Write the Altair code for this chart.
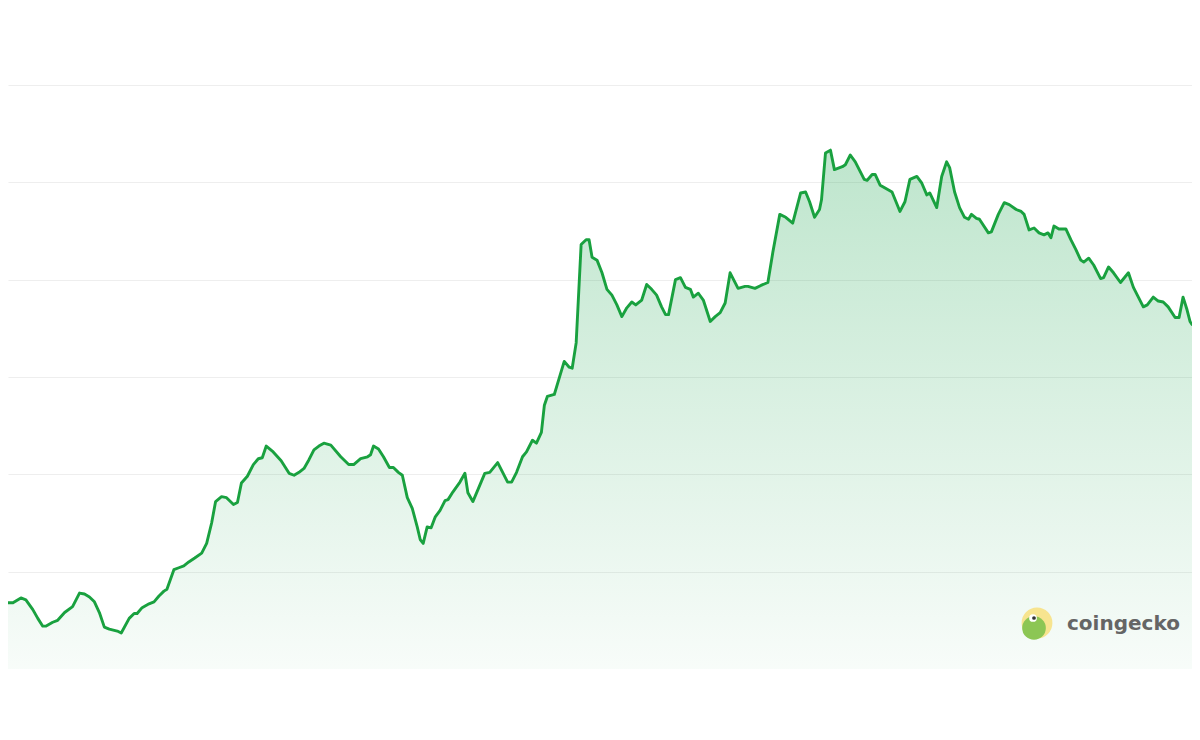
import altair as alt
import pandas as pd

# time position (arbitrary units) and price level (gridline units)
t = [5, 10, 18, 23, 30, 35, 40, 43, 50, 55, 62, 70, 77, 82, 87, 92, 97, 102, 107, 115,
     119, 127, 132, 135, 140, 147, 152, 157, 162, 165, 172, 177, 182, 187, 193, 200, 205, 210, 214, 220,
     225, 232, 236, 240, 246, 252, 257, 261, 265, 272, 280, 288, 293, 298, 303, 308, 313, 318, 323, 330,
     340, 348, 353, 360, 367, 370, 373, 378, 383, 389, 393, 398, 402, 407, 412, 417, 420, 423, 427, 431,
     435, 440, 445, 448, 453, 460, 465, 468, 473, 478, 485, 490, 498, 503, 508, 512, 517, 523, 527, 533,
     537, 542, 545, 548, 555, 560, 565, 570, 573, 577, 582, 587, 590, 593, 598, 603, 608, 613, 618, 623,
     628, 633, 637, 643, 648, 653, 658, 663, 667, 670, 677, 682, 687, 692, 695, 700, 705, 712, 717, 722,
     727, 732, 740, 747, 750, 757, 763, 770, 775, 782, 788, 795, 803, 808, 812, 817, 822, 824, 828, 833,
     837, 845, 848, 853, 858, 867, 870, 875, 878, 883, 888, 895, 903, 908, 913, 920, 925, 930, 933, 940,
     945, 950, 953, 958, 963, 968, 972, 975, 980, 983, 992, 995, 1002, 1008, 1013, 1020, 1025, 1028, 1033, 1038,
     1043, 1048, 1052, 1055, 1058, 1063, 1070, 1075, 1080, 1085, 1088, 1093, 1098, 1105, 1108, 1113, 1118, 1125, 1133, 1138,
     1143, 1148, 1152, 1158, 1163, 1168, 1173, 1180, 1184, 1188, 1192, 1195, 1197]

price = [0.68, 0.68, 0.73, 0.71, 0.61, 0.52, 0.44, 0.44, 0.48, 0.50, 0.58, 0.64, 0.78, 0.77, 0.74, 0.69, 0.58, 0.43, 0.41, 0.39,
         0.37, 0.52, 0.57, 0.57, 0.63, 0.67, 0.69, 0.75, 0.80, 0.82, 1.02, 1.04, 1.06, 1.10, 1.14, 1.19, 1.29, 1.50, 1.72, 1.77,
         1.76, 1.69, 1.71, 1.91, 1.98, 2.10, 2.16, 2.17, 2.29, 2.23, 2.14, 2.01, 1.99, 2.02, 2.06, 2.15, 2.25, 2.29, 2.32, 2.30,
         2.18, 2.10, 2.10, 2.16, 2.18, 2.20, 2.29, 2.26, 2.18, 2.07, 2.07, 2.02, 1.99, 1.76, 1.65, 1.46, 1.33, 1.29, 1.46, 1.45,
         1.56, 1.63, 1.73, 1.74, 1.82, 1.92, 2.01, 1.81, 1.72, 1.84, 2.01, 2.02, 2.12, 2.02, 1.92, 1.92, 2.02, 2.18, 2.23, 2.35,
         2.32, 2.43, 2.71, 2.80, 2.82, 2.99, 3.16, 3.10, 3.09, 3.35, 4.36, 4.41, 4.41, 4.23, 4.20, 4.07, 3.90, 3.84, 3.74, 3.62,
         3.71, 3.77, 3.74, 3.79, 3.95, 3.90, 3.84, 3.72, 3.64, 3.64, 4.00, 4.02, 3.92, 3.90, 3.82, 3.86, 3.79, 3.57, 3.62, 3.66,
         3.76, 4.07, 3.91, 3.93, 3.93, 3.91, 3.94, 3.97, 4.28, 4.67, 4.64, 4.58, 4.89, 4.90, 4.80, 4.64, 4.72, 4.82, 5.30, 5.33,
         5.13, 5.16, 5.18, 5.28, 5.21, 5.03, 5.02, 5.08, 5.08, 4.97, 4.94, 4.90, 4.70, 4.80, 5.03, 5.06, 4.99, 4.87, 4.89, 4.74,
         5.06, 5.21, 5.15, 4.90, 4.74, 4.64, 4.62, 4.67, 4.63, 4.62, 4.48, 4.49, 4.67, 4.79, 4.77, 4.72, 4.70, 4.67, 4.51, 4.53,
         4.48, 4.46, 4.48, 4.43, 4.55, 4.52, 4.52, 4.41, 4.31, 4.20, 4.18, 4.22, 4.15, 4.01, 4.02, 4.13, 4.07, 3.97, 4.07, 3.92,
         3.82, 3.72, 3.74, 3.82, 3.78, 3.77, 3.72, 3.61, 3.61, 3.82, 3.69, 3.57, 3.54]

grid_values = [0, 1, 2, 3, 4, 5, 6]
brand = "coingecko"

df = pd.DataFrame({"t": t, "price": price})

LINE = "#19a13f"

x_enc = alt.X("t:Q", scale=alt.Scale(domain=[5, 1197], nice=False, zero=False), axis=None)
y_enc = alt.Y(
    "price:Q",
    scale=alt.Scale(domain=[0, 6.79], nice=False, zero=True),
    axis=alt.Axis(values=grid_values, labels=False, ticks=False, domain=False, title=None,
                  grid=True, gridColor="#eeeeee", gridWidth=1.2),
)

area = alt.Chart(df).mark_area(
    color=alt.Gradient(
        gradient="linear",
        stops=[alt.GradientStop(color="rgba(22,163,74,0.28)", offset=0),
               alt.GradientStop(color="rgba(22,163,74,0.03)", offset=1)],
        x1=1, x2=1, y1=0, y2=1,
    ),
    interpolate="linear",
).encode(x=x_enc, y=y_enc)

line = alt.Chart(df).mark_line(color=LINE, strokeWidth=2.9, strokeJoin="round", strokeCap="round").encode(
    x=x_enc, y=y_enc
)

one = pd.DataFrame({"label": [brand]})

logo_ring = alt.Chart(one).mark_circle(color="#f7e48f", opacity=1).encode(
    x=alt.value(1029), y=alt.value(615), size=alt.value(950)
)
logo_head = alt.Chart(one).mark_circle(color="#8cc654", opacity=1).encode(
    x=alt.value(1026), y=alt.value(620), size=alt.value(560)
)
logo_eye = alt.Chart(one).mark_circle(color="#ffffff", opacity=1).encode(
    x=alt.value(1025), y=alt.value(610), size=alt.value(60)
)
logo_pupil = alt.Chart(one).mark_circle(color="#333333", opacity=1).encode(
    x=alt.value(1026), y=alt.value(610), size=alt.value(14)
)
logo_text = alt.Chart(one).mark_text(
    align="left", baseline="alphabetic", font="DejaVu Sans", fontSize=20, fontWeight="bold", color="#656565"
).encode(x=alt.value(1059), y=alt.value(622), text="label:N")

chart = alt.layer(area, line, logo_ring, logo_head, logo_eye, logo_pupil, logo_text).properties(
    width=1184, height=661, padding=0, autosize=alt.AutoSizeParams(type="none"), background="white"
).configure_view(stroke=None)

chart.save("out.html", embed_options={"renderer": "svg", "actions": False})
